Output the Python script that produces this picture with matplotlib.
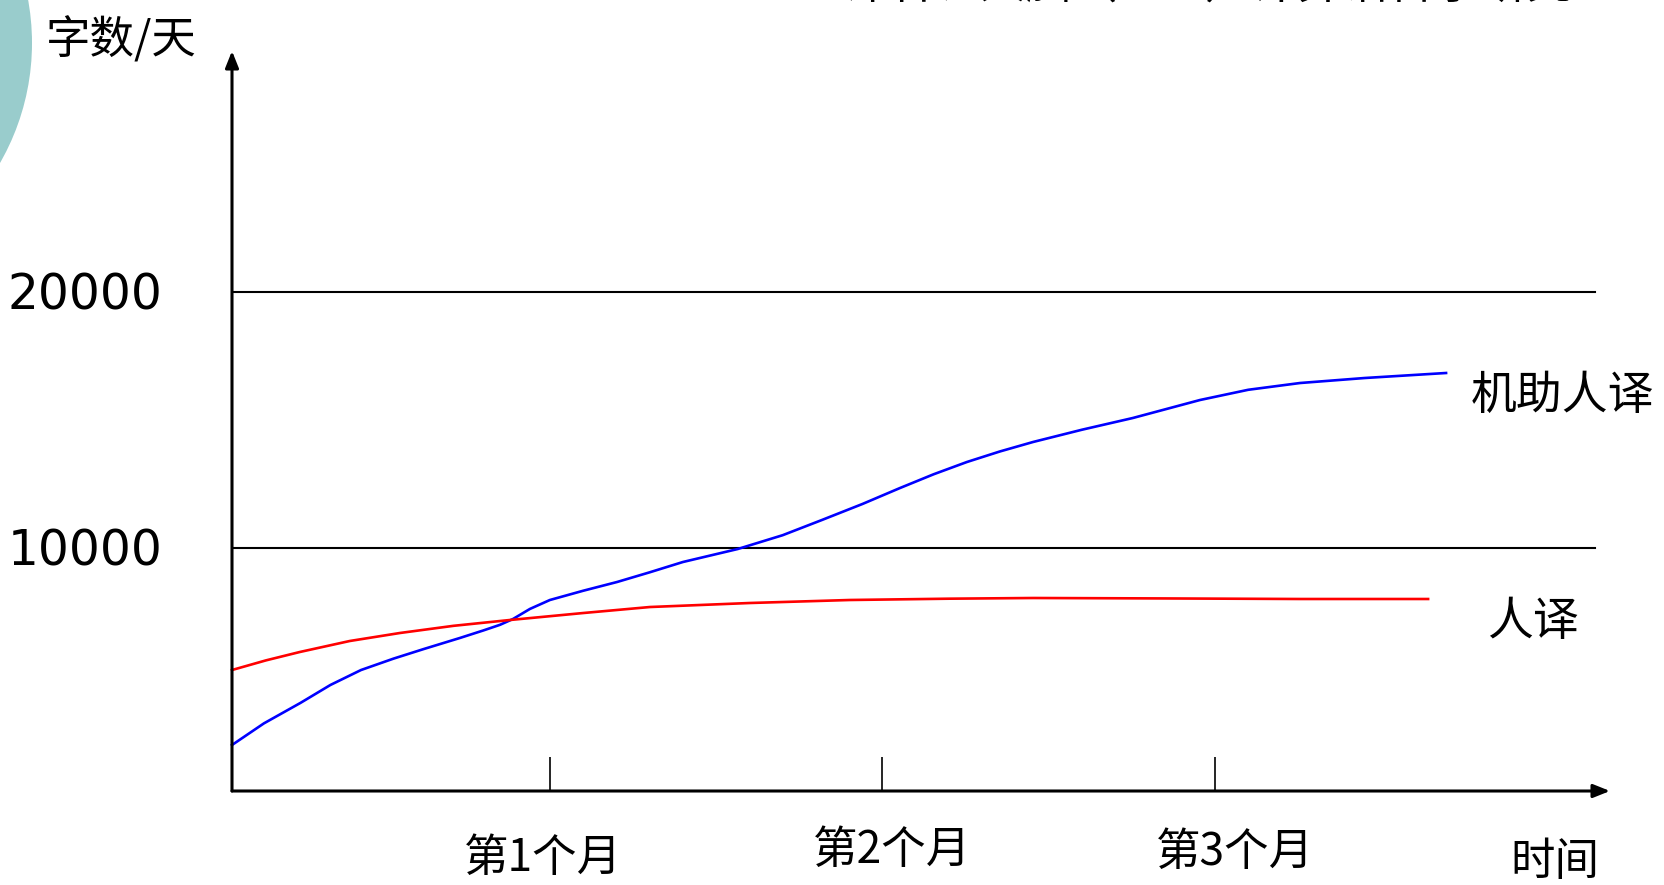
import matplotlib
matplotlib.use('Agg')
import matplotlib.pyplot as plt
import matplotlib.patches as mpatches
import matplotlib.transforms as mtrans

plt.rcParams['font.family'] = ['Noto Sans CJK SC', 'DejaVu Sans']

# data (x in months, y in 字数/天)
machine_x = [0.044, 0.14, 0.25, 0.34, 0.432, 0.53, 0.621, 0.729, 0.80, 0.85, 0.889,
             0.94, 1.0, 1.10, 1.202, 1.30, 1.4, 1.565, 1.70, 1.818, 1.94, 2.053,
             2.154, 2.254, 2.353, 2.453, 2.60, 2.753, 2.955, 3.10, 3.256, 3.45, 3.695]
machine_y = [2305, 3150, 3950, 4650, 5234, 5680, 6055, 6484, 6780, 7000, 7227,
             7620, 7969, 8330, 8672, 9050, 9453, 9961, 10500, 11094, 11720, 12344,
             12880, 13359, 13770, 14141, 14620, 15078, 15781, 16180, 16445, 16640, 16836]
human_x = [0.044, 0.146, 0.248, 0.398, 0.549, 0.71, 0.880, 1.10, 1.301, 1.602,
           1.902, 2.20, 2.453, 2.85, 3.256, 3.641]
human_y = [5234, 5610, 5938, 6367, 6680, 6960, 7188, 7460, 7695, 7852,
           7969, 8020, 8047, 8030, 8008, 8008]

month_ticks = [1, 2, 3]
month_labels = ['第1个月', '第2个月', '第3个月']
grid_vals = [10000, 20000]
grid_labels = ['10000', '20000']

fig = plt.figure(figsize=(16.64, 8.85), dpi=100)
ax = fig.add_axes([232/1664, 1 - 791/885, (1610-232)/1664, (791-51)/885])
ax.set_xlim(0.044, 4.188)
ax.set_ylim(508, 29414)
ax.axis('off')

# teal circle peeking in at the left edge
circ = mpatches.Circle((-2.09, 8.42), 2.41, transform=fig.dpi_scale_trans,
                       facecolor='#99cccc', edgecolor='none', zorder=0)
fig.add_artist(circ)

# axes with arrows
ax.annotate('', xy=(0, 1), xytext=(0, 0), xycoords='axes fraction',
            arrowprops=dict(arrowstyle='-|>,head_length=1.0,head_width=0.4',
                            color='black', lw=2.2, shrinkA=0, shrinkB=0))
ax.annotate('', xy=(1, 0), xytext=(0, 0), xycoords='axes fraction',
            arrowprops=dict(arrowstyle='-|>,head_length=1.0,head_width=0.4',
                            color='black', lw=2.2, shrinkA=0, shrinkB=0))

# horizontal reference lines
for v in grid_vals:
    ax.axhline(v, xmin=0, xmax=(1595-232)/(1610-232), color='black', lw=1.5)

trans_y = mtrans.blended_transform_factory(ax.transAxes, ax.transData)
for v, lab in zip(grid_vals, grid_labels):
    ax.text(-0.0505, v - 120, lab, transform=trans_y, ha='right', va='center',
            fontsize=35, family='DejaVu Sans', color='black')

# month ticks
ax.vlines(month_ticks, 508, 1836, color='black', lw=1.2)
trans_x = mtrans.blended_transform_factory(ax.transData, fig.transFigure)
label_x = [0.98, 2.03, 3.06]
label_y = [1 - 858/885, 1 - 850/885, 1 - 852/885]
for x, y, lab in zip(label_x, label_y, month_labels):
    ax.text(x, y, lab, transform=trans_x, ha='center', va='center', fontsize=32)

# curves
ax.plot(machine_x, machine_y, color='#0000ff', lw=1.9, clip_on=False,
        solid_joinstyle='round')
ax.plot(human_x, human_y, color='#ff0000', lw=1.9, clip_on=False,
        solid_joinstyle='round')

ax.text(4.044, 15938, '机助人译', ha='center', va='center', fontsize=33, clip_on=False)
ax.text(3.957, 7109, '人译', ha='center', va='center', fontsize=33, clip_on=False)

fig.text(121/1664, 1 - 40/885, '字数/天', ha='center', va='center', fontsize=32)
fig.text(1555/1664, 1 - 862/885, '时间', ha='center', va='center', fontsize=32)

# title cut off at the top of the slide
fig.text(1208/1664, 1 - 9/885, '译者、大脑（CCC）计算语言学研究', ha='center',
         va='bottom', fontsize=33)

fig.savefig('out.png', dpi=100)
